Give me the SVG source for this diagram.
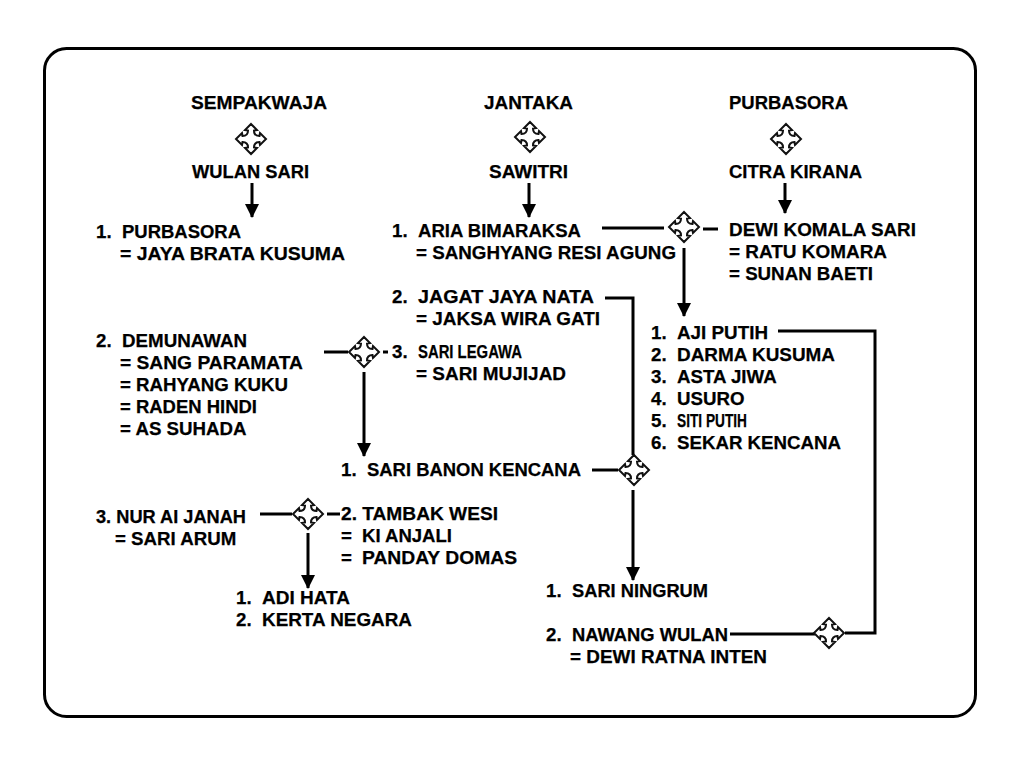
<svg xmlns="http://www.w3.org/2000/svg" width="1024" height="762" viewBox="0 0 1024 762">
<style>
text{font-family:"Liberation Sans",Arial,sans-serif;font-weight:700;font-size:18.7px;fill:#000;stroke:#000;stroke-width:.25}
.l{fill:none;stroke:#000;stroke-width:3}
.x{fill:#fff;stroke:#111;stroke-width:2;stroke-linejoin:miter}
</style>
<defs>
<marker id="a" markerUnits="userSpaceOnUse" markerWidth="14" markerHeight="14" refX="13" refY="7" orient="auto"><path d="M0 0L14 7L0 14Z" fill="#000"/></marker>
<path id="c" class="x" d="M0-15L6-9L3-8.500Q3-3 8.500-3L9-6L15 0L9 6L8.500 3Q3 3 3 8.500L6 9L0 15L-6 9L-3 8.500Q-3 3-8.500 3L-9 6L-15 0L-9-6L-8.500-3Q-3-3-3-8.500L-6-9Z"/>
</defs>
<rect width="1024" height="762" fill="#fff"/>
<rect x="44.500" y="48.500" width="931" height="668" rx="22" fill="#fff" stroke="#000" stroke-width="3"/>
<g id="connectors">
<path class="l" d="M252 183V217" marker-end="url(#a)"/>
<path class="l" d="M529 183V217" marker-end="url(#a)"/>
<path class="l" d="M785 183V213" marker-end="url(#a)"/>
<path class="l" d="M602 228H664"/>
<path class="l" d="M703 229H718"/>
<path class="l" d="M684 248V316" marker-end="url(#a)"/>
<path class="l" d="M605 298H633V455"/>
<path class="l" d="M324 352H348"/>
<path class="l" d="M383 352H388"/>
<path class="l" d="M364 372V456" marker-end="url(#a)"/>
<path class="l" d="M592 470H618"/>
<path class="l" d="M633 490V580" marker-end="url(#a)"/>
<path class="l" d="M260 514H292"/>
<path class="l" d="M327 514H340"/>
<path class="l" d="M308 533V588" marker-end="url(#a)"/>
<path class="l" d="M730 634H815"/>
<path class="l" d="M845 633H875V331H778"/>
</g>
<g id="node-sempakwaja"><text x="191" y="109" textLength="136" lengthAdjust="spacingAndGlyphs">SEMPAKWAJA</text></g>
<g id="node-jantaka"><text x="484" y="109" textLength="89" lengthAdjust="spacingAndGlyphs">JANTAKA</text></g>
<g id="node-purbasora-top"><text x="729" y="109" textLength="119" lengthAdjust="spacingAndGlyphs">PURBASORA</text></g>
<g id="cross-1"><use href="#c" x="251" y="139"/></g>
<g id="cross-2"><use href="#c" x="530" y="137"/></g>
<g id="cross-3"><use href="#c" x="786" y="139"/></g>
<g id="node-wulan-sari"><text x="192" y="178" textLength="117" lengthAdjust="spacingAndGlyphs">WULAN SARI</text></g>
<g id="node-sawitri"><text x="489" y="178" textLength="79" lengthAdjust="spacingAndGlyphs">SAWITRI</text></g>
<g id="node-citra-kirana"><text x="729" y="178" textLength="133" lengthAdjust="spacingAndGlyphs">CITRA KIRANA</text></g>
<g id="node-purbasora"><text x="96" y="238">1.</text><text x="122" y="238" textLength="119" lengthAdjust="spacingAndGlyphs">PURBASORA</text><text x="120" y="260" textLength="225" lengthAdjust="spacingAndGlyphs">= JAYA BRATA KUSUMA</text></g>
<g id="node-aria"><text x="392" y="237">1.</text><text x="418" y="237" textLength="163" lengthAdjust="spacingAndGlyphs">ARIA BIMARAKSA</text><text x="416" y="259" textLength="260" lengthAdjust="spacingAndGlyphs">= SANGHYANG RESI AGUNG</text></g>
<g id="cross-4"><use href="#c" x="684" y="227"/></g>
<g id="node-dewi"><text x="729" y="236" textLength="187" lengthAdjust="spacingAndGlyphs">DEWI KOMALA SARI</text><text x="729" y="258" textLength="158" lengthAdjust="spacingAndGlyphs">= RATU KOMARA</text><text x="729" y="280" textLength="144" lengthAdjust="spacingAndGlyphs">= SUNAN BAETI</text></g>
<g id="node-jagat"><text x="392" y="303">2.</text><text x="418" y="303" textLength="176" lengthAdjust="spacingAndGlyphs">JAGAT JAYA NATA</text><text x="416" y="325" textLength="184" lengthAdjust="spacingAndGlyphs">= JAKSA WIRA GATI</text></g>
<g id="node-aji"><text x="651" y="339">1.</text><text x="677" y="339" textLength="91" lengthAdjust="spacingAndGlyphs">AJI PUTIH</text><text x="651" y="361">2.</text><text x="677" y="361" textLength="158" lengthAdjust="spacingAndGlyphs">DARMA KUSUMA</text><text x="651" y="383">3.</text><text x="677" y="383">ASTA JIWA</text><text x="651" y="405">4.</text><text x="677" y="405">USURO</text><text x="651" y="427">5.</text><text x="677" y="427" textLength="70" lengthAdjust="spacingAndGlyphs">SITI PUTIH</text><text x="651" y="449">6.</text><text x="677" y="449">SEKAR KENCANA</text></g>
<g id="node-demunawan"><text x="96" y="347">2.</text><text x="122" y="347" textLength="125" lengthAdjust="spacingAndGlyphs">DEMUNAWAN</text><text x="120" y="369" textLength="183" lengthAdjust="spacingAndGlyphs">= SANG PARAMATA</text><text x="120" y="391">= RAHYANG KUKU</text><text x="120" y="413" textLength="137" lengthAdjust="spacingAndGlyphs">= RADEN HINDI</text><text x="120" y="435">= AS SUHADA</text></g>
<g id="cross-5"><use href="#c" x="364" y="352"/></g>
<g id="node-sari-legawa"><text x="392" y="358">3.</text><text x="418" y="358" textLength="104" lengthAdjust="spacingAndGlyphs">SARI LEGAWA</text><text x="416" y="380" textLength="150" lengthAdjust="spacingAndGlyphs">= SARI MUJIJAD</text></g>
<g id="node-sari-banon"><text x="341" y="476">1.</text><text x="367" y="476" textLength="214" lengthAdjust="spacingAndGlyphs">SARI BANON KENCANA</text></g>
<g id="cross-6"><use href="#c" x="634" y="470"/></g>
<g id="node-nur"><text x="96" y="523" textLength="150" lengthAdjust="spacingAndGlyphs">3. NUR AI JANAH</text><text x="115" y="545">= SARI ARUM</text></g>
<g id="cross-7"><use href="#c" x="308" y="514"/></g>
<g id="node-tambak"><text x="341" y="520" textLength="157" lengthAdjust="spacingAndGlyphs">2. TAMBAK WESI</text><text x="341" y="542">=</text><text x="362" y="542" textLength="90" lengthAdjust="spacingAndGlyphs">KI ANJALI</text><text x="341" y="564">=</text><text x="362" y="564" textLength="155" lengthAdjust="spacingAndGlyphs">PANDAY DOMAS</text></g>
<g id="node-adi"><text x="236" y="604">1.</text><text x="262" y="604" textLength="88" lengthAdjust="spacingAndGlyphs">ADI HATA</text><text x="236" y="626">2.</text><text x="262" y="626" textLength="150" lengthAdjust="spacingAndGlyphs">KERTA NEGARA</text></g>
<g id="node-sari-ningrum"><text x="546" y="597">1.</text><text x="572" y="597" textLength="136" lengthAdjust="spacingAndGlyphs">SARI NINGRUM</text></g>
<g id="node-nawang"><text x="546" y="641">2.</text><text x="572" y="641" textLength="156" lengthAdjust="spacingAndGlyphs">NAWANG WULAN</text><text x="570" y="663" textLength="197" lengthAdjust="spacingAndGlyphs">= DEWI RATNA INTEN</text></g>
<g id="cross-8"><use href="#c" x="829" y="633"/></g>
</svg>
